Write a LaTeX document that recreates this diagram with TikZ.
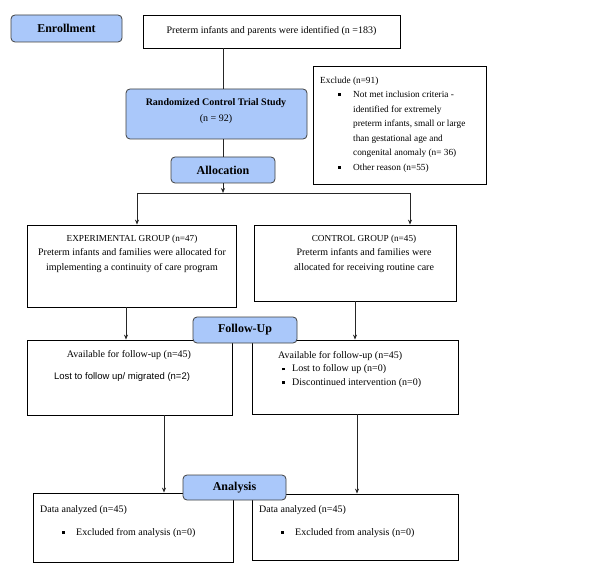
\documentclass[tikz,border=0pt]{standalone}
\usepackage{fontspec}
\setmainfont{Liberation Serif}
\newfontfamily\sansf{Liberation Sans}
\usetikzlibrary{arrows.meta}
\definecolor{hdrblue}{HTML}{AAC8FA}
\newcommand\sqbul{\rule[1.6pt]{2.6pt}{2.6pt}}
\begin{document}
\begin{tikzpicture}[x=1pt,y=-1pt,
  box/.style={draw=black,line width=0.8pt,rectangle,inner sep=0pt,font=\fontsize{10}{14.5}\selectfont},
  hdr/.style={draw=black!75,fill=hdrblue,rounded corners=4pt,line width=0.8pt,inner sep=0pt,font=\fontsize{12}{14}\selectfont\bfseries},
  txt/.style={inner sep=0pt,font=\fontsize{10}{14.5}\selectfont},
  conn/.style={line width=0.8pt,draw=black!85},
  arr/.style={conn,-{Stealth[length=5pt,width=4pt]}}]
\useasboundingbox[fill=white] (0,0) rectangle (604,569);

% boxes
\node[hdr,minimum width=111pt,minimum height=27pt] (enroll) at (66.5,28.5) {Enrollment};
\node[box,minimum width=257pt,minimum height=33pt] (ident) at (271.5,31.5) {Preterm infants and parents were identified (n =183)};
\node[hdr,minimum width=181pt,minimum height=50pt] (rct) at (216.5,114) {};
\node[txt,align=center,font=\fontsize{10}{16}\selectfont] (rctlbl) at (216,111) {\textbf{Randomized Control Trial Study}\\(n = 92)};
\node[hdr,minimum width=104pt,minimum height=26pt] (alloc) at (223,170) {Allocation};
\node[box,minimum width=173pt,minimum height=118pt] (excl) at (399.5,125) {};
\node[txt,anchor=north west,align=left,font=\fontsize{9.3}{14.5}\selectfont] (excltxt) at (320,76.5) {Exclude (n=91)\\
\makebox[33pt][l]{\hspace*{18pt}\sqbul}Not met inclusion criteria -\\
\makebox[33pt]{}identified for extremely\\
\makebox[33pt]{}preterm infants, small or large\\
\makebox[33pt]{}than gestational age and\\
\makebox[33pt]{}congenital anomaly (n= 36)\\
\makebox[33pt][l]{\hspace*{18pt}\sqbul}Other reason (n=55)};

\node[box,minimum width=209pt,minimum height=82pt] (exp) at (131.5,266) {};
\node[txt,align=center] (explbl) at (132,253.5) {{\fontsize{9.2}{14.5}\selectfont EXPERIMENTAL GROUP (n=47)}\\Preterm infants and families were allocated for\\implementing a continuity of care program};
\node[box,minimum width=202pt,minimum height=76pt] (ctrl) at (355,263) {};
\node[txt,align=center] (ctrllbl) at (364,253.5) {{\fontsize{9.2}{14.5}\selectfont CONTROL GROUP (n=45)}\\Preterm infants and families were\\allocated for receiving routine care};

\node[box,minimum width=205pt,minimum height=75pt] (fuL) at (129.5,377.5) {};
\node[txt] (fuLa) at (129,355) {Available for follow-up (n=45)};
\node[txt,font=\fontsize{9.5}{12}\sansf] (fuLb) at (122,377) {Lost to follow up/ migrated (n=2)};
\node[box,minimum width=206pt,minimum height=74pt] (fuR) at (355,377) {};
\node[txt,anchor=north west,align=left,font=\fontsize{10}{13.7}\selectfont] (fuRtxt) at (278,351) {Available for follow-up (n=45)\\
\makebox[14pt][l]{\hspace*{4pt}\sqbul}Lost to follow up (n=0)\\
\makebox[14pt][l]{\hspace*{4pt}\sqbul}Discontinued intervention (n=0)};
\node[hdr,minimum width=104pt,minimum height=26pt] (fu) at (245,330) {Follow-Up};

\node[box,minimum width=200pt,minimum height=69pt] (anL) at (133,527.5) {};
\node[txt,anchor=north west,align=left] (anLtxt) at (40,505) {Data analyzed (n=45)\\[8.5pt]
\makebox[36pt][l]{\hspace*{22pt}\sqbul}Excluded from analysis (n=0)};
\node[box,minimum width=206pt,minimum height=66pt] (anR) at (355,527) {};
\node[txt,anchor=north west,align=left] (anRtxt) at (259,505) {Data analyzed (n=45)\\[8.5pt]
\makebox[36pt][l]{\hspace*{22pt}\sqbul}Excluded from analysis (n=0)};
\node[hdr,minimum width=103pt,minimum height=25pt] (an) at (234.5,487.5) {Analysis};

% connectors
\coordinate (split) at (223,193);
\coordinate (splitL) at (137,193);
\coordinate (splitR) at (410,193);
\draw[conn] (ident.south -| alloc.north) -- (rct.north -| alloc.north);
\draw[conn] (rct.south -| alloc.north) -- (alloc.north);
\draw[arr] (alloc.south) -- (split);
\draw[conn] (splitL) -- (splitR);
\draw[arr] (splitL) -- (splitL |- exp.north);
\draw[arr] (splitR) -- (splitR |- ctrl.north);
\draw[arr] ([xshift=-5.5pt]exp.south) -- ([xshift=-5.5pt]exp.south |- fuL.north);
\draw[arr] (ctrl.south) -- (ctrl.south |- fuR.north);
\draw[arr] ([xshift=34.5pt]fuL.south) -- ([xshift=34.5pt]fuL.south |- anL.north);
\draw[arr] ([xshift=2pt]fuR.south) -- ([xshift=2pt]fuR.south |- anR.north);
\end{tikzpicture}
\end{document}
